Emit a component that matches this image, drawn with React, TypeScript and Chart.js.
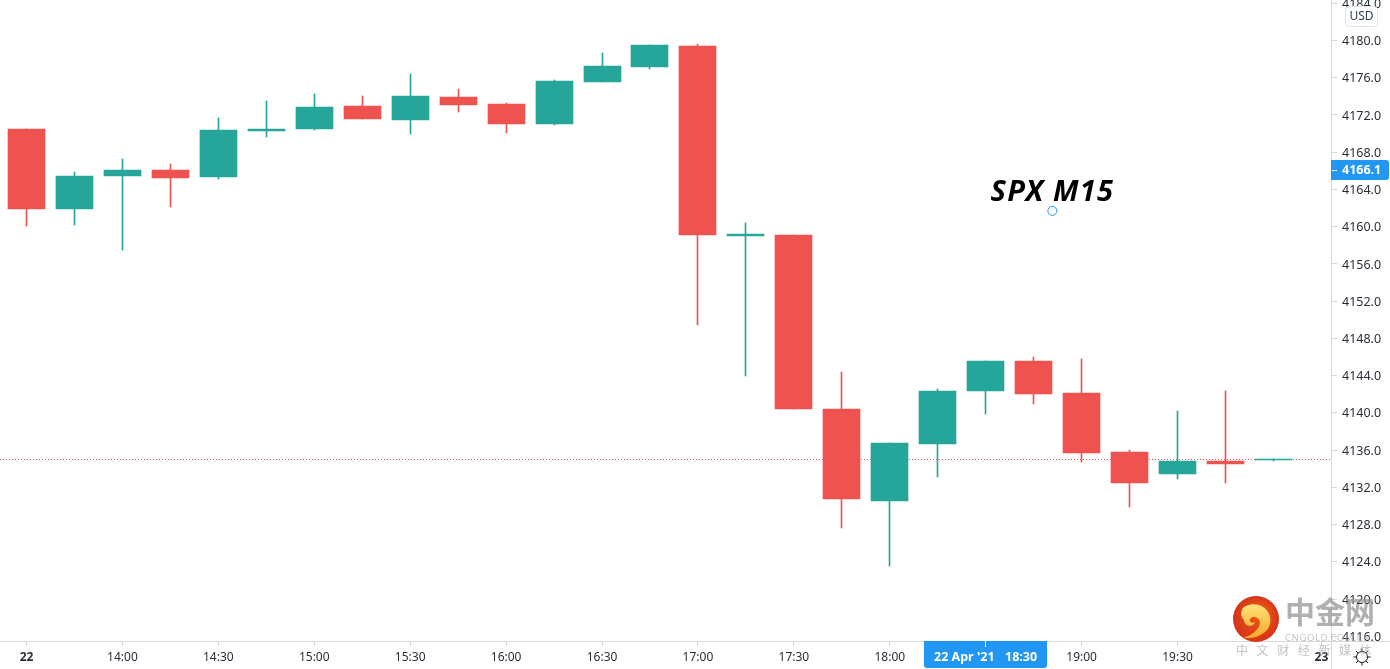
import React, { useEffect, useRef } from "react";
import { Chart, registerables } from "chart.js";

Chart.register(...registerables);

const candleIndex = [0, 1, 2, 3, 4, 5, 6, 7, 8, 9, 10, 11, 12, 13, 14, 15, 16, 17, 18, 19, 20, 21, 22, 23, 24, 25, 26];
const opens = [4170.5, 4161.9, 4165.45, 4166.1, 4165.35, 4170.3, 4170.5, 4173.0, 4171.45, 4173.9, 4173.2, 4171.0, 4175.5, 4177.2, 4179.4, 4159.0, 4159.1, 4140.4, 4130.55, 4136.65, 4142.35, 4145.6, 4142.15, 4135.8, 4133.45, 4134.85, 4134.95];
const closes = [4161.9, 4165.45, 4166.1, 4165.25, 4170.4, 4170.5, 4172.85, 4171.55, 4174.0, 4173.1, 4171.0, 4175.65, 4177.3, 4179.5, 4159.1, 4159.2, 4140.4, 4130.75, 4136.8, 4142.35, 4145.6, 4142.0, 4135.7, 4132.5, 4134.85, 4134.5, 4135.05];
const highs = [4170.5, 4165.9, 4167.3, 4166.75, 4171.7, 4173.5, 4174.25, 4174.0, 4176.4, 4174.8, 4173.3, 4175.8, 4178.7, 4179.5, 4179.6, 4160.4, 4159.1, 4144.4, 4136.8, 4142.55, 4145.6, 4146.0, 4145.8, 4136.0, 4140.2, 4142.35, 4135.05];
const lows = [4160.1, 4160.2, 4157.5, 4162.1, 4165.1, 4169.65, 4170.4, 4171.55, 4169.95, 4172.3, 4170.05, 4170.9, 4175.5, 4176.9, 4149.45, 4143.95, 4140.4, 4127.65, 4123.55, 4133.1, 4139.9, 4140.95, 4134.75, 4129.9, 4132.9, 4132.5, 4134.85];

const xTickValues = [0, 2, 4, 6, 8, 10, 12, 14, 16, 18, 20, 22, 24, 27];
const xTickLabels = ["22", "14:00", "14:30", "15:00", "15:30", "16:00", "16:30", "17:00", "17:30", "18:00", "18:30", "19:00", "19:30", "23"];
const boldTicks = [0, 27];
const yTickValues = [4116, 4120, 4124, 4128, 4132, 4136, 4140, 4144, 4148, 4152, 4156, 4160, 4164, 4168, 4172, 4176, 4180, 4184];

const priceLineValue = 4135.0;
const priceLineX = [-0.55254, 27.1998];
const crossX = 20;
const crossY = 4166.1;
const crossDateLabel = "22 Apr '21";
const crossTimeLabel = "18:30";
const crossPriceLabel = "4166.1";
const noteX = 21.39;
const noteY = 4161.7;
const noteText = "SPX M15";
const currency = "USD";

const UP = "#26A69A";
const DOWN = "#EF5350";
const BLUE = "#2196F3";
const AXIS = "#D6D8DC";
const TEXT = "#2A2E39";
const FONT = "'Noto Sans', sans-serif";

const candleColors = opens.map((o, i) => (closes[i] >= o ? UP : DOWN));

function rr(ctx: CanvasRenderingContext2D, x: number, y: number, w: number, h: number, r: number | number[]) {
  ctx.beginPath();
  (ctx as any).roundRect(x, y, w, h, r);
}

const snap = {
  id: "snap",
  afterDatasetsUpdate(chart: any) {
    chart.getSortedVisibleDatasetMetas().forEach((meta: any) => {
      if (meta.type === "bar") {
        meta.data.forEach((el: any) => {
          el.x = Math.floor(el.x) + 0.5;
          const top = Math.round(Math.min(el.y, el.base));
          const bottom = Math.round(Math.max(el.y, el.base));
          el.y = top;
          el.base = bottom === top ? top + 1 : bottom;
          el.height = el.base - el.y;
        });
      } else if (meta.type === "line") {
        meta.data.forEach((el: any) => {
          el.y = Math.floor(el.y) + 0.5;
        });
      }
    });
  },
};

const overlay = {
  id: "overlay",
  afterDraw(chart: any) {
    const ctx: CanvasRenderingContext2D = chart.ctx;
    const xs = chart.scales.x;
    const ys = chart.scales.y;
    const W = chart.width;
    const H = chart.height;
    const ax = chart.chartArea.right;
    const ay = chart.chartArea.bottom;
    ctx.save();

    // axis lines run to the window edges
    ctx.fillStyle = AXIS;
    ctx.fillRect(0, ay, W, 1);
    ctx.fillRect(ax, 0, 1, H);

    // note
    ctx.fillStyle = "#000";
    ctx.font = `italic bold 29px ${FONT}`;
    (ctx as any).letterSpacing = "1.2px";
    ctx.textAlign = "center";
    ctx.textBaseline = "middle";
    ctx.fillText(noteText, xs.getPixelForValue(noteX), ys.getPixelForValue(noteY) - 18);
    (ctx as any).letterSpacing = "0px";

    // USD box
    ctx.fillStyle = "#fff";
    ctx.strokeStyle = "#E0E3EB";
    ctx.lineWidth = 1;
    rr(ctx, 1345.5, 6.5, 32, 20, 4);
    ctx.fill();
    ctx.stroke();
    ctx.fillStyle = "#2F3F55";
    ctx.font = `12px ${FONT}`;
    ctx.fillText(currency, 1361.5, 16.5);

    // crosshair price label
    const py = Math.round(ys.getPixelForValue(crossY));
    ctx.fillStyle = BLUE;
    rr(ctx, ax, py - 10, 58, 20, [0, 3, 3, 0]);
    ctx.fill();
    ctx.fillStyle = "#fff";
    ctx.fillRect(ax + 1, py, 5, 1);
    ctx.textAlign = "left";
    ctx.font = `bold 12.5px ${FONT}`;
    ctx.fillText(crossPriceLabel, ax + 11, py + 0.5);

    // crosshair time label
    const px = Math.floor(xs.getPixelForValue(crossX));
    ctx.fillStyle = BLUE;
    rr(ctx, 924, ay, 123, 27, [0, 0, 3, 3]);
    ctx.fill();
    ctx.fillStyle = "#fff";
    ctx.fillRect(px, ay, 1, 6);
    ctx.font = `bold 12.5px ${FONT}`;
    ctx.textAlign = "left";
    ctx.fillText(crossDateLabel, 934, 657);
    ctx.fillText(crossTimeLabel, 1005, 657);

    // settings glyph
    ctx.strokeStyle = "#131722";
    ctx.lineWidth = 1;
    ctx.beginPath();
    ctx.arc(1362, 657, 5.5, 0, Math.PI * 2);
    ctx.stroke();
    for (let a = 0; a < 8; a++) {
      const t = (a * Math.PI) / 4;
      ctx.beginPath();
      ctx.moveTo(1362 + Math.cos(t) * 5.5, 657 + Math.sin(t) * 5.5);
      ctx.lineTo(1362 + Math.cos(t) * 8.5, 657 + Math.sin(t) * 8.5);
      ctx.stroke();
    }

    // watermark
    const g = ctx.createRadialGradient(1262, 612, 4, 1256, 619, 24);
    g.addColorStop(0, "#EC5A14");
    g.addColorStop(1, "#D6301A");
    ctx.fillStyle = g;
    ctx.beginPath();
    ctx.arc(1256, 619, 23, 0, Math.PI * 2);
    ctx.fill();
    const y2 = ctx.createLinearGradient(1256, 604, 1256, 640);
    y2.addColorStop(0, "#FFE27A");
    y2.addColorStop(1, "#F7A623");
    ctx.fillStyle = y2;
    ctx.beginPath();
    ctx.moveTo(1246, 606);
    ctx.bezierCurveTo(1254, 602, 1264, 605, 1268, 612);
    ctx.bezierCurveTo(1273, 620, 1270, 630, 1262, 634);
    ctx.bezierCurveTo(1256, 638, 1249, 639, 1243, 638);
    ctx.bezierCurveTo(1252, 635, 1259, 630, 1260, 623);
    ctx.bezierCurveTo(1260, 617, 1253, 615, 1250, 619);
    ctx.bezierCurveTo(1249, 622, 1252, 624, 1255, 622);
    ctx.bezierCurveTo(1254, 627, 1245, 628, 1244, 620);
    ctx.bezierCurveTo(1240, 617, 1240, 608, 1246, 606);
    ctx.fill();
    ctx.textAlign = "left";
    ctx.fillStyle = "rgba(150,150,150,0.75)";
    ctx.font = `bold 30px 'Noto Sans CJK SC', sans-serif`;
    ctx.fillText("中金网", 1285, 612);
    ctx.fillStyle = "rgba(170,170,170,0.7)";
    ctx.font = `9.5px ${FONT}`;
    (ctx as any).letterSpacing = "0.6px";
    ctx.fillText("CNGOLD.COM.CN", 1285, 638);
    ctx.font = `12px 'Noto Sans CJK SC', sans-serif`;
    (ctx as any).letterSpacing = "8.6px";
    ctx.fillText("中文财经新媒体", 1236, 650);
    (ctx as any).letterSpacing = "0px";
    ctx.restore();
  },
};

export default function App() {
  const ref = useRef<HTMLCanvasElement>(null);
  useEffect(() => {
    document.body.style.margin = "0";
    const chart = new Chart(ref.current as HTMLCanvasElement, {
      type: "bar",
      data: {
        datasets: [
          {
            type: "line",
            data: priceLineX.map((x) => ({ x, y: priceLineValue })),
            borderColor: DOWN,
            borderWidth: 1,
            borderDash: [1, 2],
            pointRadius: 0,
            order: 3,
          },
          {
            type: "bar",
            data: candleIndex.map((x, i) => ({ x, y: [lows[i], highs[i]] })),
            backgroundColor: candleColors,
            barThickness: 1,
            grouped: false,
            order: 2,
          },
          {
            type: "bar",
            data: candleIndex.map((x, i) => ({ x, y: [opens[i], closes[i]] })),
            backgroundColor: candleColors,
            barThickness: 37,
            grouped: false,
            order: 1,
          },
          {
            type: "scatter",
            data: [{ x: noteX, y: noteY }],
            pointRadius: 4.5,
            pointBackgroundColor: "#fff",
            pointBorderColor: BLUE,
            pointBorderWidth: 1,
            order: 0,
          },
        ] as any,
      },
      options: {
        animation: false,
        responsive: false,
        devicePixelRatio: 1,
        events: [],
        layout: { padding: 0, autoPadding: false },
        plugins: { legend: { display: false }, tooltip: { enabled: false } },
        scales: {
          x: {
            type: "linear",
            offset: false,
            min: priceLineX[0],
            max: priceLineX[1],
            afterBuildTicks: (s: any) => {
              s.ticks = xTickValues.map((value) => ({ value }));
            },
            afterFit: (s: any) => {
              s.height = 28;
              s.paddingLeft = 0;
              s.paddingRight = 0;
            },
            grid: { offset: false, drawOnChartArea: false, drawTicks: true, tickLength: 5, color: AXIS },
            border: { color: AXIS },
            ticks: {
              autoSkip: false,
              maxRotation: 0,
              padding: 4,
              color: TEXT,
              font: (c: any) => ({
                family: FONT,
                size: 12,
                weight: boldTicks.includes(c.tick?.value) ? "bold" : "normal",
              }),
              callback: (v: any) => xTickLabels[xTickValues.indexOf(v)],
            },
          },
          y: {
            type: "linear",
            position: "right",
            min: 4115.5,
            max: 4184.35,
            afterBuildTicks: (s: any) => {
              s.ticks = yTickValues.map((value) => ({ value }));
            },
            afterFit: (s: any) => {
              s.width = 59;
              s.paddingTop = 0;
              s.paddingBottom = 0;
            },
            grid: { drawOnChartArea: false, drawTicks: true, tickLength: 6, color: AXIS },
            border: { color: AXIS },
            ticks: {
              autoSkip: false,
              padding: 5,
              labelOffset: 1,
              color: TEXT,
              font: { family: FONT, size: 12.5 },
              callback: (v: any) => Number(v).toFixed(1),
            },
          },
        },
      },
      plugins: [snap, overlay],
    } as any);
    return () => chart.destroy();
  }, []);
  return (
    <div style={{ width: 1390, height: 669, overflow: "hidden", background: "#fff" }}>
      <canvas ref={ref} width={1390} height={669} style={{ display: "block" }} />
    </div>
  );
}
